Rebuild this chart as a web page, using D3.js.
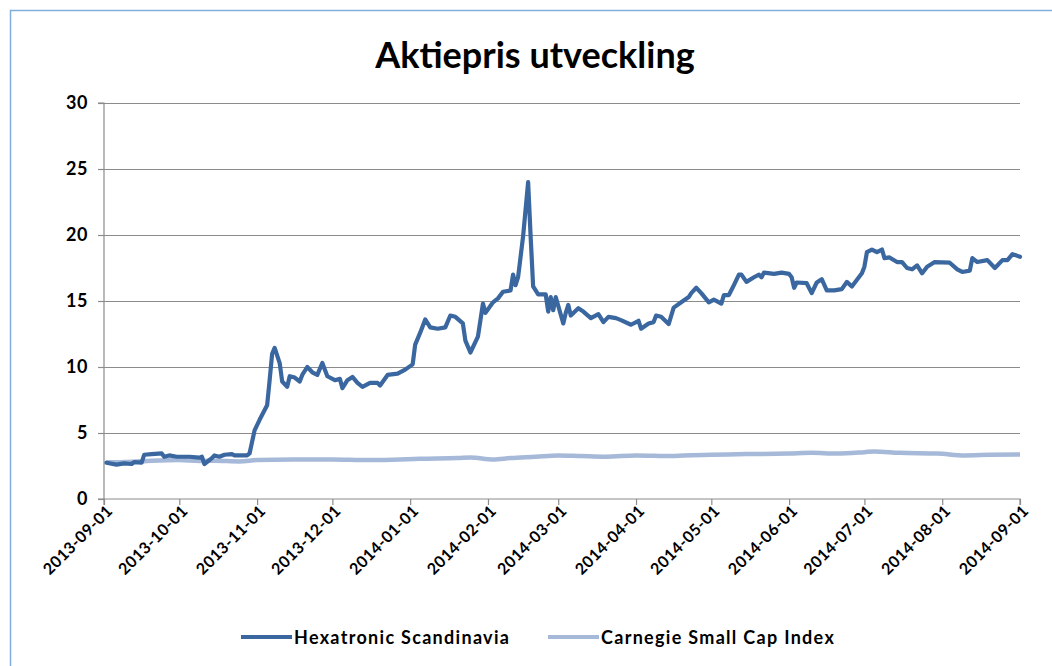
<!DOCTYPE html>
<html><head><meta charset="utf-8">
<script src="https://cdn.jsdelivr.net/npm/d3@7"></script>
<style>
html,body{margin:0;padding:0;background:#fff;}
svg{display:block;font-family:Lato,"Open Sans",sans-serif;}
</style></head>
<body>
<svg id="c" width="1052" height="666"></svg>
<script>
const title = "Aktiepris utveckling";
const seriesNames = ["Hexatronic Scandinavia", "Carnegie Small Cap Index"];
const xTickLabels = ["2013-09-01","2013-10-01","2013-11-01","2013-12-01","2014-01-01","2014-02-01","2014-03-01","2014-04-01","2014-05-01","2014-06-01","2014-07-01","2014-08-01","2014-09-01"];
const yTicks = [0,5,10,15,20,25,30];

const hexDates = ["2013-09-02","2013-09-06","2013-09-09","2013-09-12","2013-09-13","2013-09-16","2013-09-17","2013-09-20","2013-09-24","2013-09-25","2013-09-27","2013-09-30","2013-10-05","2013-10-09","2013-10-10","2013-10-11","2013-10-14","2013-10-15","2013-10-17","2013-10-19","2013-10-22","2013-10-23","2013-10-28","2013-10-29","2013-10-31","2013-11-02","2013-11-05","2013-11-06","2013-11-07","2013-11-08","2013-11-10","2013-11-11","2013-11-13","2013-11-14","2013-11-16","2013-11-18","2013-11-19","2013-11-21","2013-11-23","2013-11-25","2013-11-27","2013-11-29","2013-12-02","2013-12-04","2013-12-05","2013-12-07","2013-12-09","2013-12-11","2013-12-13","2013-12-16","2013-12-19","2013-12-20","2013-12-23","2013-12-27","2013-12-30","2014-01-02","2014-01-03","2014-01-05","2014-01-07","2014-01-09","2014-01-12","2014-01-15","2014-01-17","2014-01-19","2014-01-22","2014-01-23","2014-01-25","2014-01-28","2014-01-30","2014-01-31","2014-02-03","2014-02-05","2014-02-07","2014-02-10","2014-02-11","2014-02-12","2014-02-13","2014-02-15","2014-02-17","2014-02-18","2014-02-19","2014-02-21","2014-02-24","2014-02-25","2014-02-26","2014-02-27","2014-02-28","2014-03-03","2014-03-04","2014-03-05","2014-03-06","2014-03-09","2014-03-11","2014-03-14","2014-03-17","2014-03-19","2014-03-21","2014-03-24","2014-03-26","2014-03-30","2014-04-02","2014-04-03","2014-04-06","2014-04-08","2014-04-09","2014-04-11","2014-04-14","2014-04-16","2014-04-19","2014-04-22","2014-04-23","2014-04-25","2014-04-27","2014-04-30","2014-05-02","2014-05-05","2014-05-06","2014-05-08","2014-05-10","2014-05-12","2014-05-13","2014-05-15","2014-05-18","2014-05-20","2014-05-21","2014-05-22","2014-05-26","2014-05-29","2014-06-01","2014-06-02","2014-06-03","2014-06-04","2014-06-08","2014-06-10","2014-06-12","2014-06-14","2014-06-16","2014-06-19","2014-06-22","2014-06-24","2014-06-26","2014-06-30","2014-07-01","2014-07-02","2014-07-04","2014-07-06","2014-07-08","2014-07-09","2014-07-11","2014-07-14","2014-07-16","2014-07-18","2014-07-20","2014-07-22","2014-07-24","2014-07-26","2014-07-29","2014-08-04","2014-08-07","2014-08-09","2014-08-12","2014-08-13","2014-08-15","2014-08-19","2014-08-22","2014-08-25","2014-08-27","2014-08-29","2014-09-01"];
const hexValues = [2.75,2.6,2.7,2.65,2.8,2.75,3.35,3.4,3.45,3.2,3.3,3.2,3.2,3.13,3.2,2.65,3.1,3.3,3.2,3.35,3.4,3.3,3.3,3.45,5.2,6.0,7.1,9.0,11.0,11.45,10.3,8.9,8.5,9.3,9.2,8.9,9.4,10.0,9.6,9.4,10.3,9.3,9.0,9.1,8.4,9.0,9.25,8.8,8.5,8.8,8.8,8.6,9.4,9.5,9.8,10.2,11.7,12.6,13.6,13.0,12.9,13.0,13.9,13.8,13.3,12.0,11.1,12.3,14.8,14.1,14.9,15.2,15.7,15.8,17.0,16.2,16.8,19.9,24.0,19.9,16.1,15.5,15.5,14.2,15.3,14.3,15.3,13.3,14.1,14.7,13.9,14.45,14.2,13.7,14.0,13.4,13.8,13.7,13.55,13.2,13.5,12.9,13.3,13.4,13.9,13.8,13.25,14.5,14.9,15.3,15.6,16.0,15.6,14.9,15.1,14.8,15.45,15.45,16.2,17.0,17.0,16.45,16.8,17.0,16.8,17.15,17.05,17.15,17.05,16.8,16.0,16.4,16.35,15.6,16.4,16.65,15.8,15.8,15.9,16.45,16.1,17.1,17.6,18.7,18.9,18.7,18.9,18.25,18.3,17.95,17.95,17.5,17.4,17.7,17.1,17.6,17.95,17.9,17.4,17.2,17.3,18.25,17.95,18.1,17.5,18.1,18.1,18.55,18.35];

const capDates = ["2013-09-02","2013-09-10","2013-09-20","2013-10-01","2013-10-09","2013-10-15","2013-10-25","2013-11-01","2013-11-15","2013-12-01","2013-12-15","2013-12-25","2014-01-05","2014-01-20","2014-01-25","2014-02-03","2014-02-10","2014-02-20","2014-03-01","2014-03-10","2014-03-20","2014-04-01","2014-04-15","2014-04-20","2014-05-01","2014-05-15","2014-06-01","2014-06-10","2014-06-20","2014-07-01","2014-07-05","2014-07-15","2014-07-30","2014-08-10","2014-08-20","2014-09-01"];
const capValues = [2.78,2.8,2.9,2.95,2.88,2.9,2.85,2.95,3.0,3.0,2.95,2.98,3.05,3.1,3.15,3.0,3.1,3.2,3.3,3.25,3.2,3.3,3.25,3.3,3.35,3.4,3.45,3.5,3.45,3.55,3.6,3.5,3.45,3.3,3.35,3.38];

const parse = d3.timeParse("%Y-%m-%d");
const svg = d3.select("#c");
const M = {left:104, right:1020, top:103, bottom:499};

// frame
svg.append("rect").attr("x",10.5).attr("y",10.5).attr("width",1060).attr("height",680)
  .attr("fill","none").attr("stroke","#7FAEDD").attr("stroke-width",1.5);

svg.append("text").attr("x",535).attr("y",68).attr("text-anchor","middle")
  .attr("font-size",36).attr("font-weight",700).attr("fill","#000").text(title);

const x = d3.scaleTime().domain([parse(xTickLabels[0]), parse(xTickLabels[xTickLabels.length-1])]).range([M.left, M.right]);
const y = d3.scaleLinear().domain([0,30]).range([M.bottom, M.top]);

// gridlines
svg.append("g").selectAll("line").data(yTicks.filter(v=>v>0)).join("line")
  .attr("x1",M.left).attr("x2",M.right).attr("y1",d=>Math.round(y(d))+0.5).attr("y2",d=>Math.round(y(d))+0.5)
  .attr("stroke","#8c8c8c").attr("stroke-width",1.2);

// y axis
const yAxis = svg.append("g").attr("transform",`translate(${M.left},0)`)
  .call(d3.axisLeft(y).tickValues(yTicks).tickSize(6).tickPadding(10));
yAxis.select(".domain").attr("stroke","#8c8c8c").attr("stroke-width",1.2).attr("d",`M-6,${M.top}H0V${M.bottom}H-6`);
yAxis.selectAll(".tick line").attr("stroke","#8c8c8c").attr("stroke-width",1.2);
yAxis.selectAll("text").attr("font-size",18).attr("font-weight",700).attr("fill","#000").attr("font-family","Lato")
  .attr("letter-spacing",0.5);

// x axis
const xAxis = svg.append("g").attr("transform",`translate(0,${M.bottom})`)
  .call(d3.axisBottom(x).tickValues(xTickLabels.map(parse)).tickFormat(d3.timeFormat("%Y-%m-%d")).tickSize(6));
xAxis.select(".domain").attr("stroke","#8c8c8c").attr("stroke-width",1.2).attr("d",`M${M.left},6V0H${M.right}V6`);
xAxis.selectAll(".tick line").attr("stroke","#8c8c8c").attr("stroke-width",1.2);
xAxis.selectAll("text").attr("font-size",16).attr("font-weight",700).attr("fill","#000").attr("font-family","Lato")
  .attr("text-anchor","end").attr("dy",0).attr("y",0).attr("letter-spacing",0.4)
  .attr("transform","translate(9,13) rotate(-45)");

const capData = capDates.map((d,i)=>[parse(d),capValues[i]]);
const hexData = hexDates.map((d,i)=>[parse(d),hexValues[i]]);
svg.append("path").datum(capData).attr("d",d3.line().x(d=>x(d[0])).y(d=>y(d[1])).curve(d3.curveMonotoneX)).attr("fill","none")
  .attr("stroke","#A6B9D9").attr("stroke-width",4.5).attr("stroke-linejoin","round");
svg.append("path").datum(hexData).attr("d",d3.line().x(d=>x(d[0])).y(d=>y(d[1]))).attr("fill","none")
  .attr("stroke","#3A67A0").attr("stroke-width",4.2).attr("stroke-linejoin","round").attr("stroke-linecap","round");

// legend
const legend = [{name:seriesNames[0],color:"#3A67A0",x:241},{name:seriesNames[1],color:"#A6B9D9",x:548}];
const lg = svg.append("g").selectAll("g").data(legend).join("g").attr("transform",d=>`translate(${d.x},637)`);
lg.append("line").attr("x1",0).attr("x2",51).attr("y1",0).attr("y2",0).attr("stroke",d=>d.color).attr("stroke-width",4);
lg.append("text").attr("x",53).attr("y",6.5).attr("font-size",18).attr("font-weight",700).attr("fill","#000")
  .attr("letter-spacing",1.3).text(d=>d.name);
</script>
</body></html>
